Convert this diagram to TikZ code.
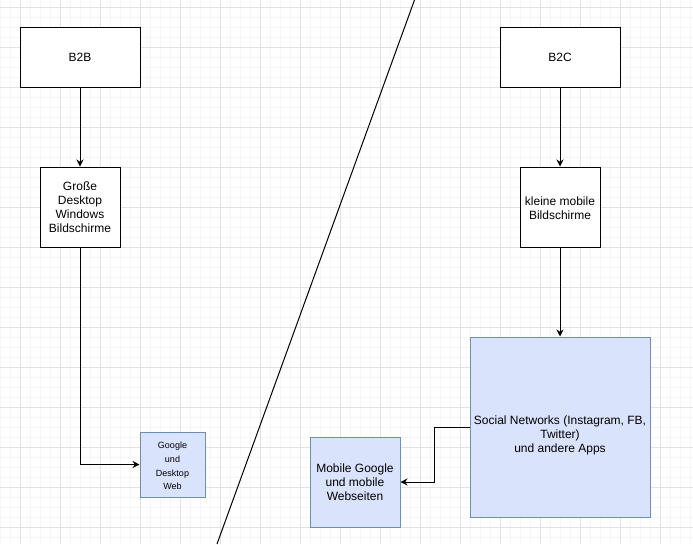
\documentclass[tikz,border=0pt]{standalone}
\usepackage{fontspec}
\setmainfont{Liberation Sans}
\usetikzlibrary{arrows.meta}
\definecolor{minorgrid}{HTML}{F6F6F6}
\definecolor{majorgrid}{HTML}{E2E2E2}
\definecolor{bluefill}{HTML}{DAE3FC}
\definecolor{blueline}{HTML}{6C8EBF}
\tikzset{
  plainbox/.style={draw=black, line width=1pt, fill=white, align=center, inner sep=2pt,
    font=\fontsize{12}{14}\selectfont},
  bluebox/.style={draw=blueline, line width=1pt, fill=bluefill, align=center, inner sep=2pt,
    font=\fontsize{12}{14}\selectfont},
  conn/.style={draw=black, line width=1pt, -{Stealth[length=7pt,width=7pt]}},
}
\begin{document}
\begin{tikzpicture}[x=1pt,y=-1pt]
\useasboundingbox (0,0) rectangle (693,544);
\fill[white] (0,0) rectangle (693,544);
% minor grid
\foreach \gx in {0,10,...,690} \draw[minorgrid, line width=0.6pt] (\gx,0) -- (\gx,544);
\foreach \gy in {7,17,...,543} \draw[minorgrid, line width=0.6pt] (0,\gy) -- (693,\gy);
% major grid
\foreach \gx in {20,60,...,680} \draw[majorgrid, line width=0.8pt] (\gx,0) -- (\gx,544);
\foreach \gy in {7,47,...,527} \draw[majorgrid, line width=0.8pt] (0,\gy) -- (693,\gy);
% diagonal divider
\coordinate (dtop) at (414.5,0);
\coordinate (dbot) at (217,544);
\draw[black, line width=1pt] (dtop) -- (dbot);
% nodes
\node[plainbox, minimum width=120pt, minimum height=60pt] (b2b) at (80,57) {B2B};
\node[plainbox, minimum width=80pt, minimum height=80pt] (gross) at (80,207) {Große\\Desktop\\Windows\\Bildschirme};
\node[bluebox, minimum width=65pt, minimum height=65pt,
  label={[align=center, font=\fontsize{9}{13.7}\selectfont, yshift=-1.5pt]center:{Google\\und\\Desktop\\Web}}] (google) at (172.5,464.5) {};
\node[plainbox, minimum width=120pt, minimum height=60pt] (b2c) at (560,57) {B2C};
\node[plainbox, minimum width=80pt, minimum height=80pt,
  label={[align=center, font=\fontsize{12}{14}\selectfont, yshift=-1pt]center:{kleine mobile\\Bildschirme}}] (klein) at (560,207) {};
\node[bluebox, minimum width=180pt, minimum height=180pt,
  label={[align=center, font=\fontsize{12}{14}\selectfont, yshift=-8pt]center:{Social Networks (Instagram, FB,\\Twitter)\\und andere Apps}}] (social) at (560,427) {};
\node[bluebox, minimum width=90pt, minimum height=90pt] (mobile) at (355,482) {Mobile Google\\und mobile\\Webseiten};
% connectors
\draw[conn] (b2b.south) -- (gross.north);
\draw[conn] (gross.south) |- (google.west);
\draw[conn] (b2c.south) -- (klein.north);
\draw[conn] (klein.south) -- (social.north);
\draw[conn] (social.west) -- ++(-35,0) |- (mobile.east);
\end{tikzpicture}
\end{document}
